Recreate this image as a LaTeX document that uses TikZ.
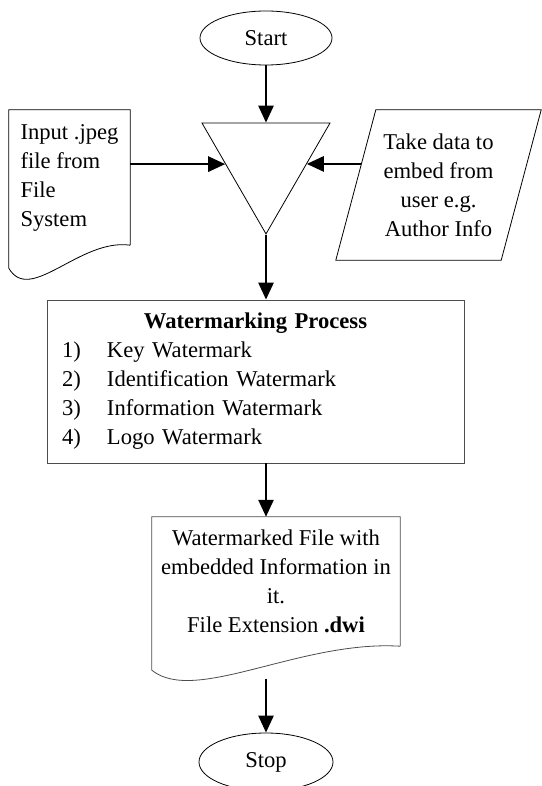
\documentclass[tikz,border=0pt]{standalone}
\usepackage{fontspec}
\setmainfont{Liberation Serif}
\usetikzlibrary{positioning, shapes, calc, arrows.meta}

\begin{document}
\begin{tikzpicture}[x = 1pt, y = -1pt, font = \fontsize{22.6}{29}\selectfont,
  state/.style={draw, line width = 0.8pt, align = center, inner sep = 0pt},
  outline/.style={draw, line width = 0.8pt},
  flow/.style={-{Triangle[length = 17pt, width = 15pt]}, line width = 2.6pt}]
  \useasboundingbox (0,0) rectangle (541,786);

  % nodes
  \node [ellipse, state, minimum width = 132pt, minimum height = 54pt] (start) at (266,38) {Start};
  \node [regular polygon, regular polygon sides = 3, shape border rotate = 180, state, minimum size = 147.8pt] (merge) at (266,160) {};
  \node [rectangle, align = left, inner sep = 0pt, minimum width = 121pt, minimum height = 135pt] (infile) at (69.5,177.5) {Input .jpeg\\file from\\File\\System};
  \node [rectangle, align = center, inner sep = 0pt, minimum width = 205pt, minimum height = 150pt] (userdata) at (438.5,185) {Take data to\\embed from\\user e.g.\\Author Info};
  \node [rectangle, state, draw = black!70, align = left, text width = 387pt, minimum width = 417pt, minimum height = 163pt] (wmproc) at (255.5,381.5) {{\centering\bfseries Watermarking Process\par}
    \makebox[45pt][l]{1)}Key Watermark\\
    \makebox[45pt][l]{2)}Identification Watermark\\
    \makebox[45pt][l]{3)}Information Watermark\\
    \makebox[45pt][l]{4)}Logo Watermark};
  \node [rectangle, align = center, inner sep = 0pt, minimum width = 248pt, minimum height = 129pt] (outfile) at (276,581.5) {Watermarked File with\\embedded Information in\\it.\\File Extension \textbf{.dwi}};
  \node [ellipse, state, minimum width = 134pt, minimum height = 58pt] (stop) at (266,762) {Stop};

  % outlines
  \draw [outline] (infile.south east) -- (infile.north east) -- (infile.north west) -- ([yshift=-23pt]infile.south west) .. controls (30,305) and (80,238) .. (infile.south east);
  \draw [outline] (userdata.south west) -- ([xshift=40pt]userdata.north west) -- (userdata.north east) -- ([xshift=-40pt]userdata.south east) -- cycle;
  \draw [outline, draw = black!70] (outfile.south east) -- (outfile.north east) -- (outfile.north west) -- ([yshift=-24pt]outfile.south west) .. controls (195,705) and (300,640) .. (outfile.south east);

  \coordinate (mergeL) at ($(merge.corner 3)!0.37!(merge.corner 1)$);
  \coordinate (mergeR) at ($(merge.corner 2)!0.37!(merge.corner 1)$);
  \coordinate (userL) at ($(userdata.south west)!0.64!([xshift=40pt]userdata.north west)$);

  % edges
  \draw [flow] (start) -- (merge.side 2);
  \draw [flow] (infile.east |- mergeL) -- (mergeL);
  \draw [flow] (userL) -- (userL -| mergeR);
  \draw [flow] (merge.corner 1) -- (merge.corner 1 |- wmproc.north);
  \draw [flow] (wmproc.south -| merge.corner 1) -- (outfile.north -| merge.corner 1);
  \draw [flow] ([yshift=54pt]stop.north) -- (stop.north);
\end{tikzpicture}
\end{document}
